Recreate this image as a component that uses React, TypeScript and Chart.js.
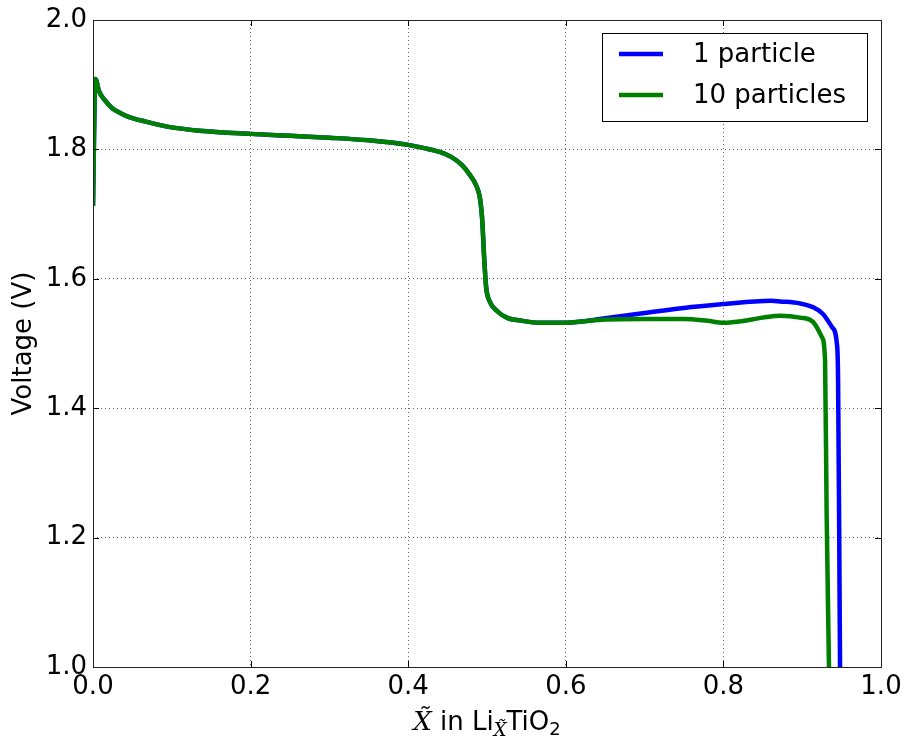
import React, { useEffect, useRef } from "react";
import { Chart, registerables } from "chart.js";

Chart.register(...registerables);

// Shared part of both curves (they overlap up to ~0.62)
const sharedX = [0, 0.003, 0.0076, 0.015, 0.024, 0.035, 0.046, 0.067, 0.1, 0.135, 0.2, 0.25, 0.3, 0.35, 0.4, 0.42, 0.44, 0.455, 0.468, 0.478, 0.486, 0.491, 0.494, 0.4965, 0.499, 0.503, 0.512, 0.525, 0.545, 0.567, 0.6, 0.62];
const sharedV = [1.713, 1.909, 1.890, 1.876, 1.864, 1.856, 1.850, 1.843, 1.834, 1.829, 1.824, 1.821, 1.818, 1.814, 1.807, 1.802, 1.796, 1.788, 1.776, 1.761, 1.745, 1.725, 1.69, 1.63, 1.586, 1.566, 1.551, 1.540, 1.535, 1.532, 1.532, 1.534];

// 1 particle tail
const blueTailX = [0.65, 0.7, 0.75, 0.8, 0.84, 0.86, 0.872, 0.897, 0.914, 0.926, 0.938, 0.944, 0.9455, 0.947, 0.948];
const blueTailV = [1.539, 1.547, 1.555, 1.561, 1.565, 1.566, 1.565, 1.562, 1.556, 1.546, 1.525, 1.50, 1.448, 1.2, 1.0];

// 10 particles tail
const greenTailX = [0.65, 0.7, 0.75, 0.78, 0.8, 0.82, 0.85, 0.872, 0.897, 0.914, 0.925, 0.929, 0.931, 0.934];
const greenTailV = [1.537, 1.538, 1.538, 1.535, 1.532, 1.534, 1.540, 1.543, 1.540, 1.533, 1.510, 1.474, 1.238, 1.0];

const seriesLabels = ["1 particle", "10 particles"];
const seriesColors = ["#0000ff", "#008000"];

const xRange = [0, 1];
const yRange = [1, 2];
const tickStep = 0.2;

const FONT = "'DejaVu Sans', sans-serif";
const SERIF = "'DejaVu Serif', serif";

function toPoints(xs: number[], ys: number[]) {
  return xs.map((x, i) => ({ x, y: ys[i] }));
}

const framePlugin = {
  id: "framePlugin",
  afterDatasetsDraw(chart: any) {
    const { ctx, chartArea: a, scales } = chart;
    ctx.save();
    // inward ticks
    ctx.strokeStyle = "#000";
    ctx.lineWidth = 1;
    const tl = 6;
    ctx.beginPath();
    scales.x.ticks.forEach((t: any) => {
      const px = Math.round(scales.x.getPixelForValue(t.value)) + 0.5;
      ctx.moveTo(px, a.bottom);
      ctx.lineTo(px, a.bottom - tl);
      ctx.moveTo(px, a.top);
      ctx.lineTo(px, a.top + tl);
    });
    scales.y.ticks.forEach((t: any) => {
      const py = Math.round(scales.y.getPixelForValue(t.value)) + 0.5;
      ctx.moveTo(a.left, py);
      ctx.lineTo(a.left + tl, py);
      ctx.moveTo(a.right, py);
      ctx.lineTo(a.right - tl, py);
    });
    ctx.stroke();
    // frame
    ctx.strokeStyle = "#222";
    ctx.strokeRect(Math.round(a.left) + 0.5, Math.round(a.top) + 0.5, Math.round(a.right - a.left), Math.round(a.bottom - a.top));
    ctx.restore();
  },
  afterDraw(chart: any) {
    const { ctx, chartArea: a } = chart;
    ctx.save();
    // Legend
    const lx = a.right - 279;
    const ly = a.top + 13;
    const lw = 265;
    const lh = 88;
    ctx.fillStyle = "#fff";
    ctx.fillRect(lx, ly, lw, lh);
    ctx.strokeStyle = "#000";
    ctx.lineWidth = 1;
    ctx.strokeRect(Math.round(lx) + 0.5, Math.round(ly) + 0.5, lw, lh);
    const rows = [ly + 21, ly + 62];
    seriesLabels.forEach((label, i) => {
      ctx.strokeStyle = seriesColors[i];
      ctx.lineWidth = 4.5;
      ctx.beginPath();
      ctx.moveTo(lx + 17, rows[i]);
      ctx.lineTo(lx + 61, rows[i]);
      ctx.stroke();
      ctx.fillStyle = "#000";
      ctx.font = `26px ${FONT}`;
      ctx.textBaseline = "middle";
      ctx.textAlign = "left";
      ctx.fillText(label, lx + 91, rows[i] + 1);
    });

    // X axis title: X~ in Li_{X~}TiO_2
    const parts = [
      { t: "X\u0303", f: `italic 26px ${SERIF}`, dy: 0 },
      { t: " in Li", f: `26px ${FONT}`, dy: 0 },
      { t: "X\u0303", f: `italic 18px ${SERIF}`, dy: 6 },
      { t: "TiO", f: `26px ${FONT}`, dy: 0 },
      { t: "2", f: `18px ${FONT}`, dy: 5 },
    ];
    let total = 0;
    const widths = parts.map((p) => {
      ctx.font = p.f;
      const w = ctx.measureText(p.t).width;
      total += w;
      return w;
    });
    let x = (a.left + a.right) / 2 - total / 2;
    const base = 730;
    ctx.fillStyle = "#000";
    ctx.textBaseline = "alphabetic";
    ctx.textAlign = "left";
    parts.forEach((p, i) => {
      ctx.font = p.f;
      ctx.fillText(p.t, x, base + p.dy);
      x += widths[i];
    });
    ctx.restore();
  },
};

export default function App() {
  const ref = useRef<HTMLCanvasElement | null>(null);
  useEffect(() => {
    document.body.style.margin = "0";
    const canvas = ref.current;
    if (!canvas) return;
    const gridColor = "rgba(0,0,0,0.6)";
    const chart = new Chart(canvas, {
      type: "line",
      data: {
        datasets: [
          {
            label: seriesLabels[0],
            data: toPoints([...sharedX, ...blueTailX], [...sharedV, ...blueTailV]),
            borderColor: seriesColors[0],
            backgroundColor: seriesColors[0],
            borderWidth: 4.5,
            pointRadius: 0,
            cubicInterpolationMode: "monotone",
            fill: false,
            order: 1,
          },
          {
            label: seriesLabels[1],
            data: toPoints([...sharedX, ...greenTailX], [...sharedV, ...greenTailV]),
            borderColor: seriesColors[1],
            backgroundColor: seriesColors[1],
            borderWidth: 4.5,
            pointRadius: 0,
            cubicInterpolationMode: "monotone",
            fill: false,
            order: 0,
          },
        ],
      },
      options: {
        responsive: false,
        animation: false,
        devicePixelRatio: 1,
        layout: { padding: { top: 20, right: 26, left: 0, bottom: 0 } },
        plugins: { legend: { display: false }, tooltip: { enabled: false } },
        scales: {
          x: {
            type: "linear",
            min: xRange[0],
            max: xRange[1],
            ticks: {
              stepSize: tickStep,
              color: "#000",
              padding: 5,
              maxRotation: 0,
              font: { family: FONT, size: 26 },
              callback: (v: any) => Number(v).toFixed(1),
            },
            grid: {
              color: gridColor,
              lineWidth: 1,
              drawTicks: false,
            },
            border: { display: false, dash: [1, 3] },
            afterFit: (s: any) => {
              s.height = 71;
              s.paddingLeft = 0;
              s.paddingRight = 0;
            },
          },
          y: {
            type: "linear",
            min: yRange[0],
            max: yRange[1],
            ticks: {
              stepSize: tickStep,
              color: "#000",
              padding: 6,
              font: { family: FONT, size: 26 },
              callback: (v: any) => Number(v).toFixed(1),
            },
            grid: {
              color: gridColor,
              lineWidth: 1,
              drawTicks: false,
            },
            border: { display: false, dash: [1, 3] },
            title: {
              display: true,
              text: "Voltage (V)",
              color: "#000",
              font: { family: FONT, size: 26 },
              padding: { top: 9, bottom: 0 },
            },
            afterFit: (s: any) => {
              s.width = 93;
              s.paddingTop = 0;
              s.paddingBottom = 0;
            },
          },
        },
      },
      plugins: [framePlugin],
    } as any);
    return () => chart.destroy();
  }, []);
  return (
    <div style={{ position: "absolute", left: 0, top: 0, width: 907, height: 738 }}>
      <canvas ref={ref} width={907} height={738} style={{ width: 907, height: 738 }} />
    </div>
  );
}
